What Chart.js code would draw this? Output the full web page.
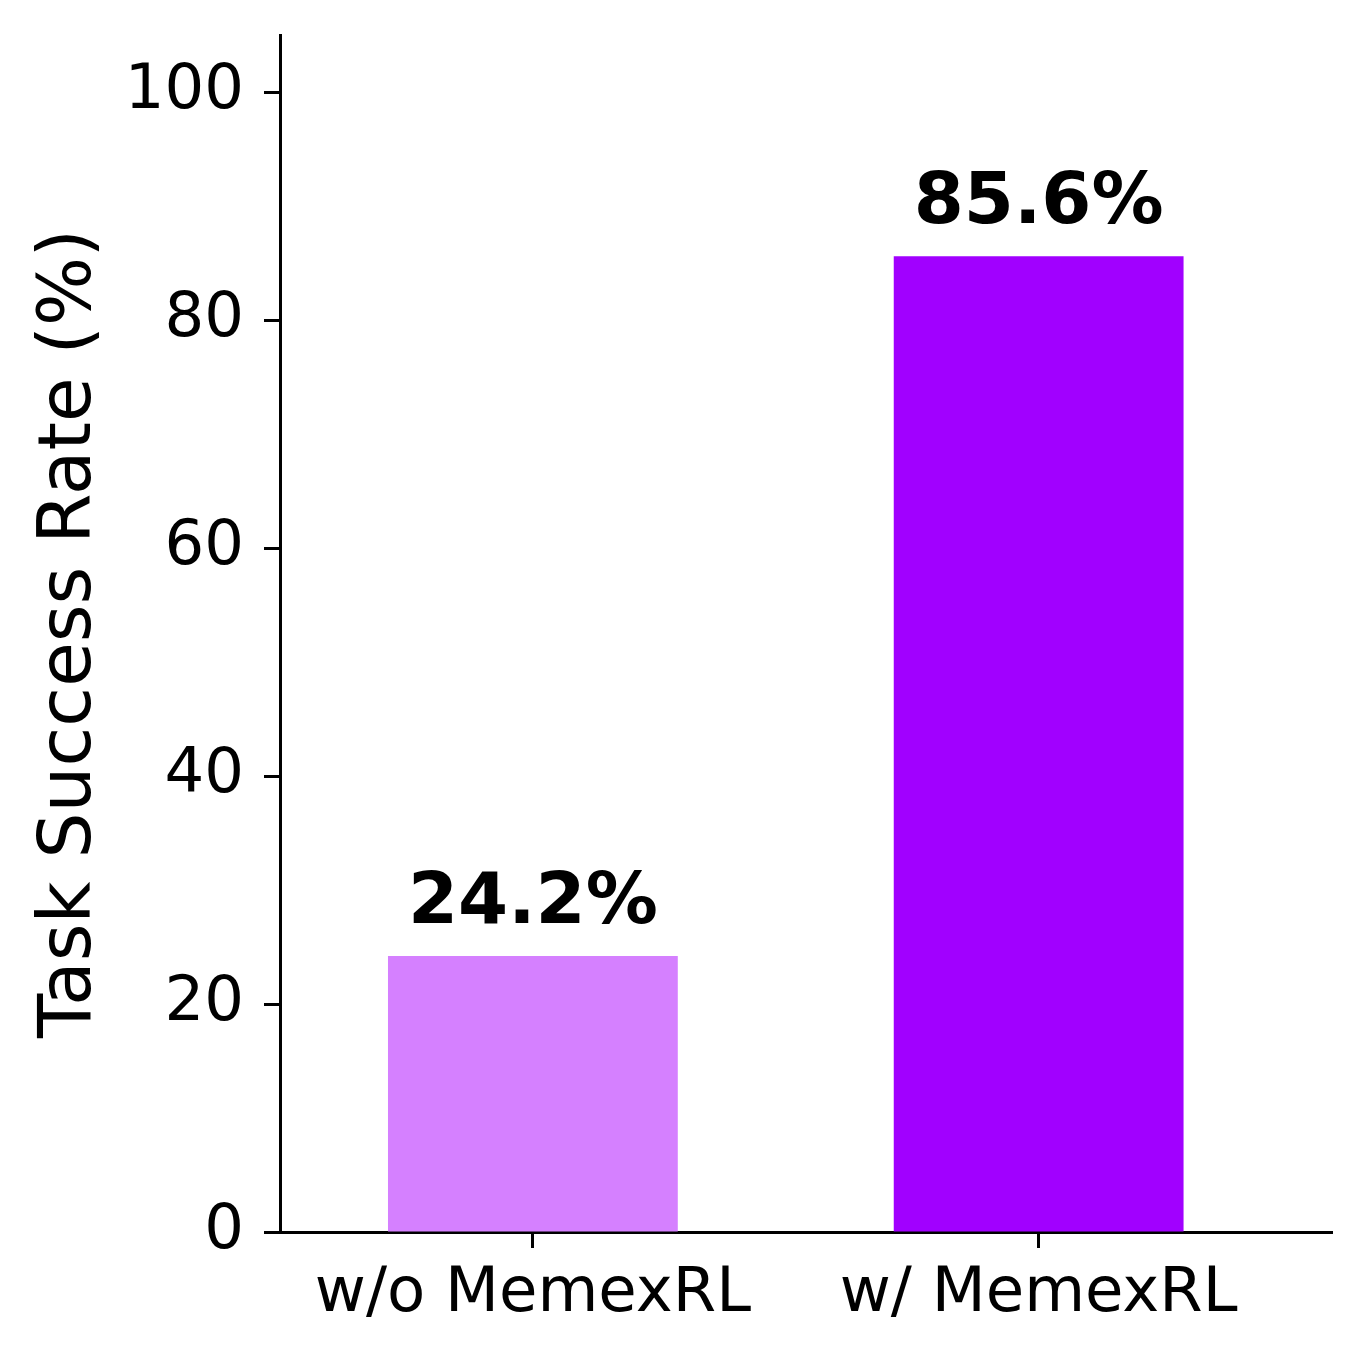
<!DOCTYPE html>
<html>
<head>
<meta charset="utf-8">
<script src="https://cdn.jsdelivr.net/npm/chart.js@4"></script>
<style>
  html, body { margin: 0; padding: 0; background: #fff; }
  canvas { display: block; }
</style>
</head>
<body>
<canvas id="chart" width="1368" height="1362"></canvas>
<script>
const categories = ['w/o MemexRL', 'w/ MemexRL'];
const successRates = [24.2, 85.6];
const barColors = ['#d580ff', '#a100ff'];
const yTicks = [0, 20, 40, 60, 80, 100];

// draw the bold percentage above each bar
const valueLabels = {
    id: 'valueLabels',
    afterDatasetsDraw(chart) {
        const ctx = chart.ctx;
        const meta = chart.getDatasetMeta(0);
        ctx.save();
        ctx.font = 'bold 72px "DejaVu Sans"';
        ctx.fillStyle = '#000';
        ctx.textAlign = 'center';
        ctx.textBaseline = 'alphabetic';
        meta.data.forEach((bar, i) => {
            ctx.fillText(successRates[i].toFixed(1) + '%', bar.x, bar.y - 33);
        });
        ctx.restore();
    }
};

new Chart(document.getElementById('chart'), {
    type: 'bar',
    data: {
        datasets: [{
            data: successRates.map((v, i) => ({ x: i, y: v })),
            backgroundColor: barColors,
            borderWidth: 0,
            barPercentage: 0.573,
            categoryPercentage: 1
        }]
    },
    options: {
        responsive: false,
        devicePixelRatio: 1,
        animation: false,
        layout: { padding: { top: 35, right: 36, left: 0, bottom: 0 } },
        plugins: { legend: { display: false }, tooltip: { enabled: false } },
        scales: {
            x: {
                type: 'linear',
                min: -0.5,
                max: 1.58,
                offset: false,
                afterBuildTicks: s => { s.ticks = categories.map((c, i) => ({ value: i })); },
                afterFit: s => { s.height = 130; s.paddingLeft = 0; s.paddingRight = 0; },
                grid: { offset: false, drawOnChartArea: false, tickLength: 16, tickWidth: 3, color: '#000' },
                border: { color: '#000', width: 3 },
                ticks: {
                    color: '#000',
                    font: { family: 'DejaVu Sans', size: 62.5 },
                    padding: 9,
                    maxRotation: 0,
                    autoSkip: false,
                    callback: v => categories[v]
                }
            },
            y: {
                min: 0,
                max: 105,
                afterBuildTicks: s => { s.ticks = yTicks.map(v => ({ value: v })); },
                afterFit: s => { s.width = 280; s.paddingTop = 0; s.paddingBottom = 0; },
                grid: { drawOnChartArea: false, tickLength: 16, tickWidth: 3, color: '#000' },
                border: { color: '#000', width: 3 },
                ticks: {
                    color: '#000',
                    font: { family: 'DejaVu Sans', size: 62.5 },
                    padding: 20
                },
                title: {
                    display: true,
                    text: 'Task Success Rate (%)',
                    color: '#000',
                    font: { family: 'DejaVu Sans', size: 72.5 },
                    padding: { top: 28, bottom: 0 }
                }
            }
        }
    },
    plugins: [valueLabels]
});
</script>
</body>
</html>
